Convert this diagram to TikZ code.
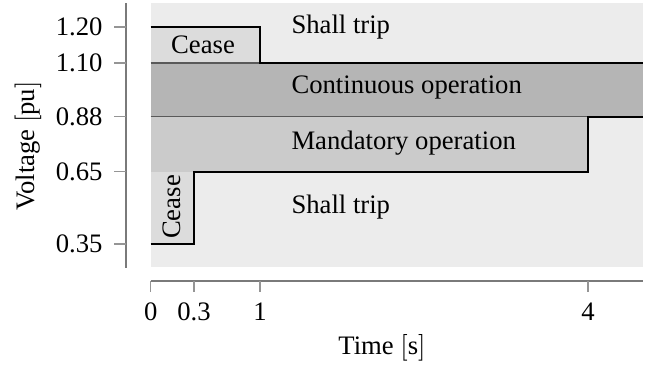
\documentclass[tikz,border=0pt]{standalone}
\usepackage{fontspec}
\setmainfont{Liberation Serif}
\definecolor{bgtrip}{HTML}{ECECEC}
\definecolor{ceasec}{HTML}{DCDCDC}
\definecolor{contc}{HTML}{B5B5B5}
\definecolor{mandc}{HTML}{CBCBCB}
\definecolor{axisc}{HTML}{7A7A7A}
\tikzset{
  lbl/.style={inner sep=0pt, font=\fontsize{10}{12}\selectfont},
  bound/.style={draw=black, line width=0.7pt},
  thinb/.style={draw=black!65, line width=0.4pt},
  axisline/.style={draw=axisc, line width=0.6pt},
  tickline/.style={draw=axisc!80, line width=0.4pt},
}
\begin{document}
\begin{tikzpicture}[x=0.375pt,y=-0.375pt]
\useasboundingbox (0,0) rectangle (651,370);
% regions
\fill[bgtrip] (150.7,3.3) rectangle (643,267);
\fill[contc] (150.7,63) rectangle (643,116.7);
\fill[mandc] (150.7,116.7) rectangle (588,171.7);
\fill[ceasec] (150.7,27) rectangle (260,63);
\fill[ceasec] (150.7,171.7) rectangle (194,244);
% thin internal boundaries
\draw[thinb] (150.7,63) -- (260,63);
\draw[thinb] (150.7,116.7) -- (588,116.7);
% boundaries
\draw[bound] (150.7,27) -- (260,27) -- (260,63) -- (643,63);
\draw[bound] (150.7,244) -- (194,244) -- (194,171.7) -- (588,171.7) -- (588,116.7) -- (643,116.7);
% y axis
\draw[axisline] (125.7,3.3) -- (125.7,268);
\foreach \yy/\tx in {27/1.20, 63/1.10, 116.7/0.88, 171.7/0.65, 244/0.35}{
  \draw[tickline] (114,\yy) -- (125.7,\yy);
  \node[lbl, anchor=east] at (103,\yy) {\tx};
}
% x axis
\draw[axisline] (150.7,281) -- (643,281);
\foreach \xx/\tx in {150.7/0, 194/0.3, 260/1, 588/4}{
  \draw[tickline] (\xx,281) -- (\xx,292);
  \node[lbl, anchor=center] at (\xx,312) {\tx};
}
% axis labels
\node[lbl, rotate=90] (ylab) at (28,146) {Voltage $[\mathrm{pu}]$};
\node[lbl] (xlab) at (382,348) {Time $[\mathrm{s}]$};
% region labels
\node[lbl, anchor=west] (trip1) at (291,27) {Shall trip};
\node[lbl] (cease1) at (203,45) {Cease};
\node[lbl, anchor=west] (cont) at (291,88) {Continuous operation};
\node[lbl, anchor=west] (mand) at (291,143) {Mandatory operation};
\node[lbl, anchor=west] (trip2) at (291,207) {Shall trip};
\node[lbl, rotate=90] (cease2) at (172,207) {Cease};
\end{tikzpicture}
\end{document}
